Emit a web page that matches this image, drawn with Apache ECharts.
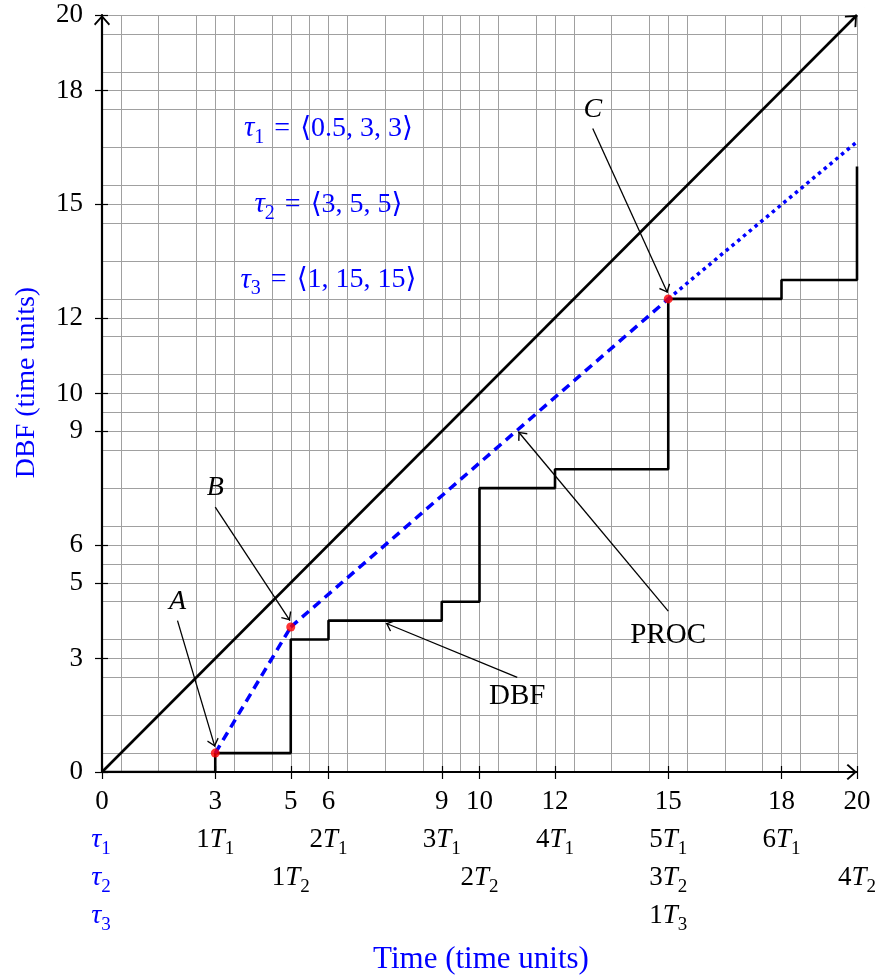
<!DOCTYPE html>
<html>
<head>
<meta charset="utf-8">
<script src="https://cdn.jsdelivr.net/npm/echarts@6/dist/echarts.min.js"></script>
<style>
  html, body { margin: 0; padding: 0; background: #fff; }
  #chart { width: 881px; height: 980px; }
</style>
</head>
<body>
<div id="chart"></div>
<script>
// ---- data ----
const tickValues = [0, 3, 5, 6, 9, 10, 12, 15, 18, 20];
const t1Marks = [3, 6, 9, 12, 15, 18];
const t2Marks = [5, 10, 15, 20];
const t3Marks = [15];

const dbfTimes = [0, 3, 5, 6, 9, 10, 12, 15, 18, 20];
const dbfValues = [0, 0.5, 3.5, 4, 4.5, 7.5, 8, 12.5, 13, 16];

const procLine = [[0, 0], [20, 20]];
const boundAB = [[3, 0.5], [5, 3.83]];
const boundBC = [[5, 3.83], [15, 12.5]];
const boundTail = [[15, 12.5], [20, 16.65]];
const keyPoints = [[3, 0.5], [5, 3.83], [15, 12.5]];

const calloutNames = ['A', 'B', 'C', 'DBF', 'PROC'];
const calloutText = [[2, 4.5], [3, 7.5], [13, 17.5], [11, 2], [15, 3.6]];
const calloutFrom = [[2, 4], [3, 7], [13, 17], [11, 2.5], [15, 4.25]];
const calloutTo = [[2.99, 0.67], [4.98, 4.0], [14.98, 12.66], [7.52, 3.93], [11.03, 8.99]];

const taskIds = ['1', '2', '3'];
const taskParams = ['0.5, 3, 3', '3, 5, 5', '1, 15, 15'];
const taskTextPos = [[6, 17], [6, 15], [6, 13]];

// ---- styling ----
const FONT = "'Liberation Serif', 'DejaVu Serif', serif";
const BLUE = '#0000ff';
// open chevron arrow head, tip placed at the symbol centre
const ARROW = 'path://M8,0 L16,9 L14.8,10.4 L8,2.8 L1.2,10.4 L0,9 Z M7.95,-10.4 L8.05,-10.4 L8,-10.35 Z';

const richAxis = {
  n: { fontFamily: FONT, fontSize: 27, color: '#000', lineHeight: 38, verticalAlign: 'middle' },
  i: { fontFamily: FONT, fontSize: 27, color: '#000', lineHeight: 38, verticalAlign: 'middle', fontStyle: 'italic' },
  s: { fontFamily: FONT, fontSize: 19, color: '#000', lineHeight: 24, verticalAlign: 'bottom' }
};

function periodLabel(value) {
  const rows = ['{n|' + value + '}'];
  let last = 0;
  [t1Marks, t2Marks, t3Marks].forEach(function (marks, gi) {
    const k = marks.indexOf(value);
    if (k >= 0) {
      rows.push('{n|' + (k + 1) + '}{i|T}{s|' + (gi + 1) + '}');
      last = gi + 1;
    } else {
      rows.push('{n| }');
    }
  });
  return rows.slice(0, last + 1).join('\n');
}

const gridStyle = { color: '#a0a0a0', width: 1 };

const chart = echarts.init(document.getElementById('chart'));

function mainAxis(labelOpts) {
  return {
    type: 'value', min: 0, max: 20, interval: 1,
    axisLine: { show: true, onZero: false, symbol: ['none', ARROW], symbolSize: [16, 20.8],
      lineStyle: { color: '#000', width: 2.2 } },
    axisTick: { show: true, customValues: tickValues, length: 7, lineStyle: { color: '#000', width: 1.2 } },
    axisLabel: labelOpts,
    splitLine: { show: true, lineStyle: gridStyle },
    minorTick: { show: false, splitNumber: 2 },
    minorSplitLine: { show: true, lineStyle: gridStyle }
  };
}

function innerTickAxis() {
  return {
    type: 'value', min: 0, max: 20, interval: 1,
    axisLine: { show: false },
    axisTick: { show: true, inside: true, customValues: tickValues, length: 6, lineStyle: { color: '#000', width: 1.2 } },
    axisLabel: { show: false },
    splitLine: { show: false }
  };
}

const xMain = mainAxis({ customValues: tickValues, margin: 11, formatter: periodLabel, rich: richAxis,
  fontFamily: FONT, fontSize: 27, color: '#000' });
xMain.position = 'bottom';
const xInner = innerTickAxis();
xInner.position = 'bottom';
const yMain = mainAxis({ customValues: tickValues, margin: 19, fontFamily: FONT, fontSize: 27, color: '#000' });
yMain.position = 'left';
const yInner = innerTickAxis();
yInner.position = 'left';

const option = {
  animation: false,
  backgroundColor: '#fff',
  grid: { left: 102, right: 24, top: 15, bottom: 208, containLabel: false },
  xAxis: [xMain, xInner],
  yAxis: [yMain, yInner],
  series: [
    {
      name: 'DBF', type: 'line', step: 'end', symbol: 'none', z: 3,
      data: dbfTimes.map(function (t, i) { return [t, dbfValues[i]]; }),
      lineStyle: { color: '#000', width: 2.6 },
      markLine: {
        silent: true, symbol: ['none', ARROW], symbolSize: [12, 15.6],
        label: { show: false },
        lineStyle: { color: '#000', width: 1.3, type: 'solid' },
        data: calloutFrom.map(function (f, i) { return [{ coord: f }, { coord: calloutTo[i] }]; })
      }
    },
    {
      name: 'PROC', type: 'line', symbol: 'none', z: 3, data: [],
      markLine: {
        silent: true, symbol: ['none', ARROW], symbolSize: [16, 20.8],
        label: { show: false },
        lineStyle: { color: '#000', width: 2.6, type: 'solid' },
        data: [[{ coord: procLine[0] }, { coord: procLine[1] }]]
      }
    },
    {
      type: 'line', symbol: 'none', z: 4, data: boundAB,
      lineStyle: { color: BLUE, width: 3.5, type: [9, 6] }
    },
    {
      type: 'line', symbol: 'none', z: 4, data: boundBC,
      lineStyle: { color: BLUE, width: 3.5, type: [9, 6] }
    },
    {
      type: 'line', symbol: 'none', z: 4, data: boundTail,
      lineStyle: { color: BLUE, width: 3.5, type: [3.5, 4] }
    },
    {
      type: 'scatter', symbol: 'circle', symbolSize: 9, z: 6, data: keyPoints,
      itemStyle: { color: '#ff0000' }
    }
  ]
};

chart.setOption(option);

// ---- text annotations placed from data coordinates ----
function px(p) { return chart.convertToPixel({ gridIndex: 0 }, p); }

const graphics = [];

calloutNames.forEach(function (name, i) {
  const p = px(calloutText[i]);
  const italic = name.length === 1;
  graphics.push({
    type: 'text', x: p[0], y: p[1], silent: true,
    style: { text: name, fill: '#000', fontFamily: FONT, fontSize: italic ? 28 : 29,
      fontStyle: italic ? 'italic' : 'normal', align: 'center', verticalAlign: 'middle' }
  });
});

const richTask = {
  t: { fill: BLUE, fontFamily: FONT, fontSize: 29, fontStyle: 'italic', lineHeight: 38, verticalAlign: 'middle' },
  s: { fill: BLUE, fontFamily: FONT, fontSize: 20, lineHeight: 24, verticalAlign: 'bottom' },
  e: { fill: BLUE, fontFamily: FONT, fontSize: 28, lineHeight: 38, verticalAlign: 'middle', padding: [0, 10, 0, 10] },
  n: { fill: BLUE, fontFamily: FONT, fontSize: 28, lineHeight: 38, verticalAlign: 'middle' }
};

taskIds.forEach(function (id, i) {
  const p = px(taskTextPos[i]);
  graphics.push({
    type: 'text', x: p[0], y: p[1], silent: true,
    style: { text: '{t|τ}{s|' + id + '}{e|=}{n|⟨' + taskParams[i] + '⟩}', rich: richTask,
      align: 'center', verticalAlign: 'middle' }
  });
});

// task row headings beside the period labels
const richRow = {
  t: { fill: BLUE, fontFamily: FONT, fontSize: 28, fontStyle: 'italic', lineHeight: 38, verticalAlign: 'middle' },
  s: { fill: BLUE, fontFamily: FONT, fontSize: 19, lineHeight: 24, verticalAlign: 'bottom' }
};
const origin = px([0, 0]);
taskIds.forEach(function (id, i) {
  graphics.push({
    type: 'text', x: origin[0] - 1, y: origin[1] + 11 + 19 + 38 * (i + 1), silent: true,
    style: { text: '{t|τ}{s|' + id + '}', rich: richRow, align: 'center', verticalAlign: 'middle' }
  });
});

// axis titles
const corner = px([20, 20]);
graphics.push({
  type: 'text', x: 481, y: 960, silent: true,
  style: { text: 'Time (time units)', fill: BLUE, fontFamily: FONT, fontSize: 31,
    align: 'center', verticalAlign: 'middle' }
});
graphics.push({
  type: 'text', x: 27, y: (origin[1] + corner[1]) / 2 - 11, rotation: Math.PI / 2, silent: true,
  style: { text: 'DBF (time units)', fill: BLUE, fontFamily: FONT, fontSize: 28,
    align: 'center', verticalAlign: 'middle' }
});

chart.setOption({ graphic: graphics });
</script>
</body>
</html>
